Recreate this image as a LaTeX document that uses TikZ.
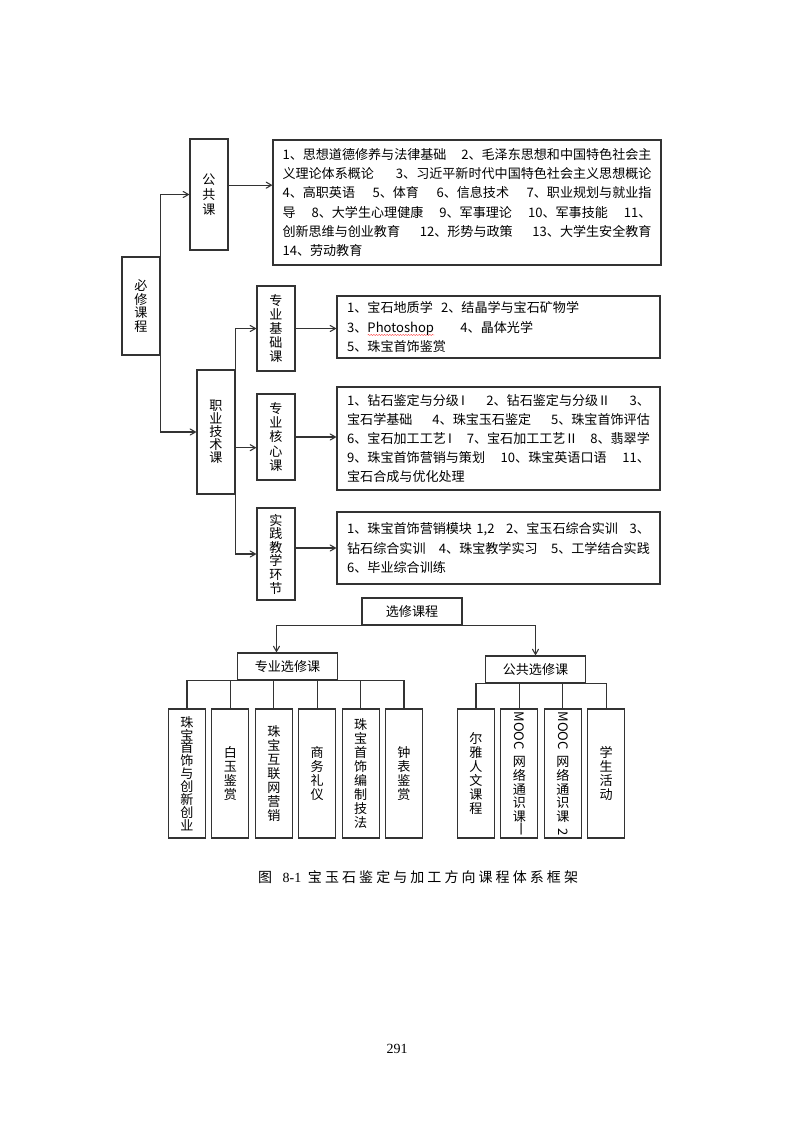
\documentclass[tikz,border=0pt]{standalone}
\usepackage{fontspec}
\setmainfont{Noto Sans CJK SC}
\newfontfamily\serifnum{Liberation Serif}
\usepackage{graphicx}
\usetikzlibrary{arrows}
\usetikzlibrary{positioning}
\usetikzlibrary{decorations.pathmorphing}

\newlength\wavylen
\newcommand\fline[1]{\makebox[\linewidth][l]{#1}}
\newcommand\wavy[1]{\settowidth{\wavylen}{#1}\rlap{\tikz[baseline=0pt]\draw[red!75,line width=0.3pt,decorate,decoration={snake,amplitude=0.4pt,segment length=2pt}] (0pt,-2.2pt) -- (\wavylen,-2.2pt);}#1}
\newcommand\rot[1]{\raisebox{\depth}{\rotatebox{-90}{#1}}}
\newcommand\vfont[1]{\fontsize{9.8}{#1}\selectfont\lineskiplimit=-\maxdimen\lineskip=0pt}

\begin{document}
\begin{tikzpicture}[x=0.75pt,y=-0.75pt,
    box/.style={draw=black!80,line width=0.8pt,inner sep=0pt},
    vbox/.style={box,minimum width=28.5pt,align=center,font={\vfont{10.2pt}}},
    cbox/.style={box,align=left,font={\fontsize{9.8}{14.4}\selectfont}},
    hbox/.style={box,minimum width=74.5pt,minimum height=20.25pt,font={\fontsize{9.8}{12}\selectfont}},
    leaf/.style={vbox,minimum width=27.75pt,minimum height=96.75pt,font={\vfont{10.4pt}}},
    link/.style={->,>=angle 60,line width=0.8pt,draw=black!80},
    line/.style={line width=0.8pt,draw=black!80}]
    \fill[white] (0,0) rectangle (793,1122);
    \useasboundingbox (0,0) rectangle (793,1122);

    % required courses
    \node[vbox,minimum height=73.5pt] (bx) at (141,306) {必\\修\\课\\程};
    \node[vbox,minimum height=83.25pt,font={\vfont{11pt}}] (gk) at (209,194.5) {公\\共\\课};
    \node[vbox,minimum height=93pt,font={\vfont{9.8pt}}] (zy) at (216,432) {职\\业\\技\\术\\课};
    \node[vbox,minimum height=63.75pt,font={\vfont{10.6pt}}] (jc) at (276,328.5) {专\\业\\基\\础\\课};
    \node[vbox,minimum height=64.5pt,font={\vfont{10.6pt}}] (hx) at (276,437) {专\\业\\核\\心\\课};
    \node[vbox,minimum height=69pt] (sj) at (276,554) {实\\践\\教\\学\\环\\节};

    \node[cbox,minimum width=291pt,minimum height=93.75pt,text width=276.75pt] (c1) at (467,202.5) {%
      \fline{1、思想道德修养与法律基础\hfill 2、毛泽东思想和中国特色社会主}\\
      \fline{义理论体系概论\hfill 3、习近平新时代中国特色社会主义思想概论}\\
      \fline{4、高职英语\hfill 5、体育\hfill 6、信息技术\hfill 7、职业规划与就业指}\\
      \fline{导\hfill 8、大学生心理健康\hfill 9、军事理论\hfill 10、军事技能\hfill 11、}\\
      \fline{创新思维与创业教育\hfill 12、形势与政策\hfill 13、大学生安全教育}\\
      14、劳动教育};
    \node[cbox,minimum width=242.25pt,minimum height=46.5pt,text width=227pt] (c2) at (498.5,327) {%
      \makebox[70.5pt][l]{1、宝石地质学}2、结晶学与宝石矿物学\\
      \makebox[85pt][l]{3、\wavy{Photoshop}}4、晶体光学\\
      5、珠宝首饰鉴赏};
    \node[cbox,minimum width=242.25pt,minimum height=77.25pt,text width=227pt] (c3) at (498.5,438.5) {%
      \fline{1、钻石鉴定与分级\,I\hfill 2、钻石鉴定与分级\,II\hfill 3、}\\
      \fline{宝石学基础\hfill 4、珠宝玉石鉴定\hfill 5、珠宝首饰评估}\\
      \fline{6、宝石加工工艺\,I\hfill 7、宝石加工工艺\,II\hfill 8、翡翠学}\\
      \fline{9、珠宝首饰营销与策划\hfill 10、珠宝英语口语\hfill 11、}\\
      宝石合成与优化处理};
    \node[cbox,minimum width=242.25pt,minimum height=54pt,text width=227pt] (c4) at (498.5,548) {%
      \fline{1、珠宝首饰营销模块 1,2\hfill 2、宝玉石综合实训\hfill 3、}\\
      \fline{钻石综合实训\hfill 4、珠宝教学实习\hfill 5、工学结合实践}\\
      6、毕业综合训练};

    \coordinate (hxin) at ([yshift=-8pt]hx.west);
    \coordinate (gkout) at ([yshift=7pt]gk.east);
    \coordinate (sjout) at ([yshift=4.5pt]sj.east);
    \draw[link] (bx.north east) |- (gk.west);
    \draw[link] (bx.south east) |- (zy.west);
    \draw[link] (zy.north east) |- (jc.west);
    \draw[link] (zy.east |- hxin) -- (hxin);
    \draw[link] (zy.south east) |- (sj.west);
    \draw[link] (gkout) -- (c1.west |- gkout);
    \draw[link] (jc.east) -- (c2.west |- jc.east);
    \draw[link] (hx.east) -- (c3.west |- hx.east);
    \draw[link] (sjout) -- (c4.west |- sjout);

    % elective courses
    \node[hbox,minimum width=75pt] (xx) at (412,611.5) {选修课程};
    \node[hbox] (zx) at (287.5,666.5) {专业选修课};
    \node[hbox] (gx) at (535.5,669.5) {公共选修课};

    \node[leaf,font={\vfont{9.7pt}}] (z1) at (187,773.5) {珠\\宝\\首\\饰\\与\\创\\新\\创\\业};
    \node[leaf,right=4pt of z1] (z2) {白\\玉\\鉴\\赏};
    \node[leaf,right=4pt of z2] (z3) {珠\\宝\\互\\联\\网\\营\\销};
    \node[leaf,right=4pt of z3] (z4) {商\\务\\礼\\仪};
    \node[leaf,right=4pt of z4] (z5) {珠\\宝\\首\\饰\\编\\制\\技\\法};
    \node[leaf,right=4pt of z5] (z6) {钟\\表\\鉴\\赏};

    \node[leaf] (g1) at (476,773.5) {尔\\雅\\人\\文\\课\\程};
    \node[leaf,right=4pt of g1] (g2) {\rot{MOOC}\\[2pt]网\\络\\通\\识\\课\\\rot{一}};
    \node[leaf,right=4pt of g2] (g3) {\rot{MOOC}\\[2pt]网\\络\\通\\识\\课\\\rot{2}};
    \node[leaf,right=4pt of g3] (g4) {学\\生\\活\\动};

    \draw[link] (xx.south) -| ([xshift=-8.25pt]zx.north);
    \draw[link] (xx.south) -| (gx.north);
    \foreach \i in {1,...,6}{
      \draw[line] (zx.south) -| (z\i.north);
    }
    \foreach \i in {1,...,4}{
      \draw[line] (gx.south) -| (g\i.north);
    }

    % caption and page number
    \node (cap) at (418,877) {\fontsize{10.5}{12}\selectfont\makebox[240pt][s]{图\hspace{8pt}{\serifnum 8-1}\hspace{5pt}宝\hfil 玉\hfil 石\hfil 鉴\hfil 定\hfil 与\hfil 加\hfil 工\hfil 方\hfil 向\hfil 课\hfil 程\hfil 体\hfil 系\hfil 框\hfil 架}};
    \node (pg) at (397,1049) {\serifnum\fontsize{10.5}{12}\selectfont 291};
\end{tikzpicture}
\end{document}
